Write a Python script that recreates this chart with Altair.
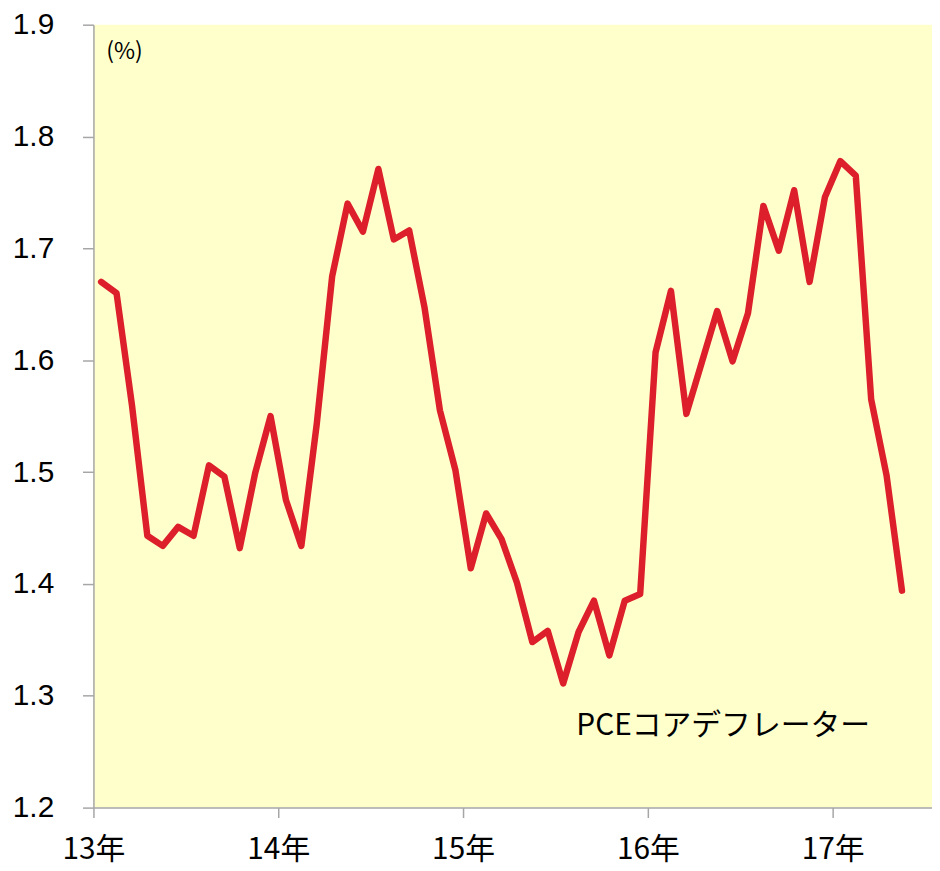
import altair as alt
import pandas as pd

# Monthly PCE core deflator (% y/y), Jan 2013 - May 2017
values = [
    1.67, 1.66, 1.56, 1.443, 1.434, 1.451, 1.443, 1.506, 1.496, 1.432, 1.499, 1.550,
    1.475, 1.434, 1.543, 1.675, 1.740, 1.715, 1.771, 1.708, 1.716, 1.647, 1.555, 1.502,
    1.414, 1.463, 1.440, 1.401, 1.348, 1.358, 1.311, 1.357, 1.385, 1.336, 1.385, 1.391,
    1.607, 1.662, 1.552, 1.598, 1.644, 1.599, 1.642, 1.738, 1.698, 1.752, 1.670, 1.746,
    1.778, 1.765, 1.565, 1.497, 1.394,
]
month_index = list(range(len(values)))
year_ticks = [0, 12, 24, 36, 48]
y_ticks = [1.2, 1.3, 1.4, 1.5, 1.6, 1.7, 1.8, 1.9]
series_label = "PCEコアデフレーター"
unit_label = "(%)"

df = pd.DataFrame({"m": month_index, "v": values})

FONT = "Noto Sans CJK JP"
NUM_FONT = "Liberation Sans"

base = alt.Chart(df).transform_calculate(xm="datum.m + 0.5")

line = base.mark_line(color="#DC1F2B", strokeWidth=6.5, strokeJoin="round", strokeCap="round").encode(
    x=alt.X(
        "xm:Q",
        scale=alt.Scale(domain=[0, 54.45], nice=False, zero=False),
        axis=alt.Axis(
            values=year_ticks,
            labelExpr="(13 + datum.value / 12) + '年'",
            title=None,
            grid=False,
            domainColor="#A6A6A6",
            tickColor="#A6A6A6",
            domainWidth=1.5,
            tickWidth=1.5,
            tickSize=10,
            labelFontSize=30,
            labelFont=FONT,
            labelColor="#000000",
            labelPadding=17,
            labelFlush=False,
        ),
    ),
    y=alt.Y(
        "v:Q",
        scale=alt.Scale(domain=[1.2, 1.9], nice=False, zero=False),
        axis=alt.Axis(
            values=y_ticks,
            format=".1f",
            title=None,
            grid=False,
            domainColor="#A6A6A6",
            tickColor="#A6A6A6",
            domainWidth=1.5,
            tickWidth=1.5,
            tickSize=11,
            labelFontSize=30,
            labelFont=NUM_FONT,
            labelColor="#000000",
            labelPadding=29,
            labelFlush=False,
        ),
    ),
)

unit_text = alt.Chart(pd.DataFrame({"t": [unit_label]})).mark_text(
    font=FONT, fontSize=23, align="left", baseline="middle", color="#000000"
).encode(x=alt.value(13), y=alt.value(28), text="t:N")

series_text = alt.Chart(pd.DataFrame({"t": [series_label]})).mark_text(
    font=FONT, fontSize=30, align="left", baseline="middle", color="#000000"
).encode(x=alt.value(486), y=alt.value(706), text="t:N")

chart = (
    alt.layer(line, unit_text, series_text)
    .properties(
        width=844,
        height=788,
        padding={"left": 86, "top": 14, "right": 0, "bottom": 60},
        autosize=alt.AutoSizeParams(type="none"),
        background="#FFFFFF",
    )
    .configure_view(fill="#FFFFCC", stroke=None)
)

chart.save("out.html", embed_options={"renderer": "svg", "actions": False})
